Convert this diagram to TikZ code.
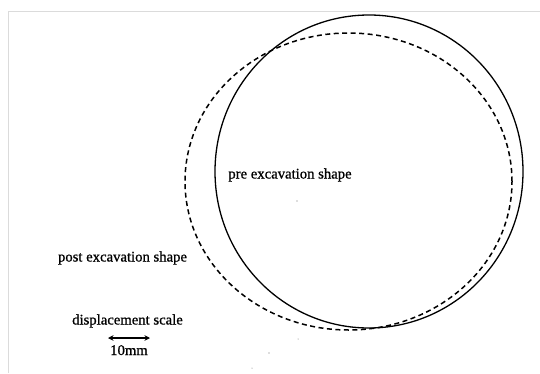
\documentclass[tikz,border=0pt]{standalone}
\usepackage{fontspec}
\setmainfont{Liberation Serif}
\newfontfamily\scanserif{Liberation Serif}[FakeBold=0.8]
\usetikzlibrary{arrows.meta}
\begin{document}
\begin{tikzpicture}[x=1pt,y=1pt,
  lbl/.style={inner sep=0pt, anchor=base, font=\scanserif\fontsize{14.7}{16}\selectfont},
  frameline/.style={draw=black!14, line width=1pt},
  solidshape/.style={line width=1.3pt},
  dashshape/.style={line width=1.5pt, dash pattern=on 5pt off 3.5pt},
  scalearrow/.style={line width=1.2pt, {Stealth[length=5.5pt,width=5.5pt]}-{Stealth[length=5.5pt,width=5.5pt]}},
  speck/.style={fill=black!55}]
\useasboundingbox (0,0) rectangle (540,373);
\fill[white] (0,0) rectangle (540,373);
\draw[frameline] (8,0) -- (8,361) -- (540,361);
\draw[solidshape] (369,201.5) ellipse [x radius=154, y radius=156.5];
\draw[dashshape] (348.5,191.5) ellipse [x radius=163.5, y radius=148.5];
\node[lbl] (pre) at (290,194.5) {pre excavation shape};
\node[lbl] (post) at (122.5,111.5) {post excavation shape};
\node[lbl] (disp) at (127.5,48.5) {displacement scale};
\node[lbl] (ten) at (129,18) {10mm};
\coordinate (aL) at (108,35);
\coordinate (aR) at (150,35);
\draw[scalearrow] (aL) -- (aR);
\fill[speck] (297,172) circle (0.6);
\fill[speck] (298,34) circle (0.5);
\fill[speck] (269,20) circle (0.7);
\fill[speck] (252,5) circle (0.5);
\end{tikzpicture}
\end{document}
